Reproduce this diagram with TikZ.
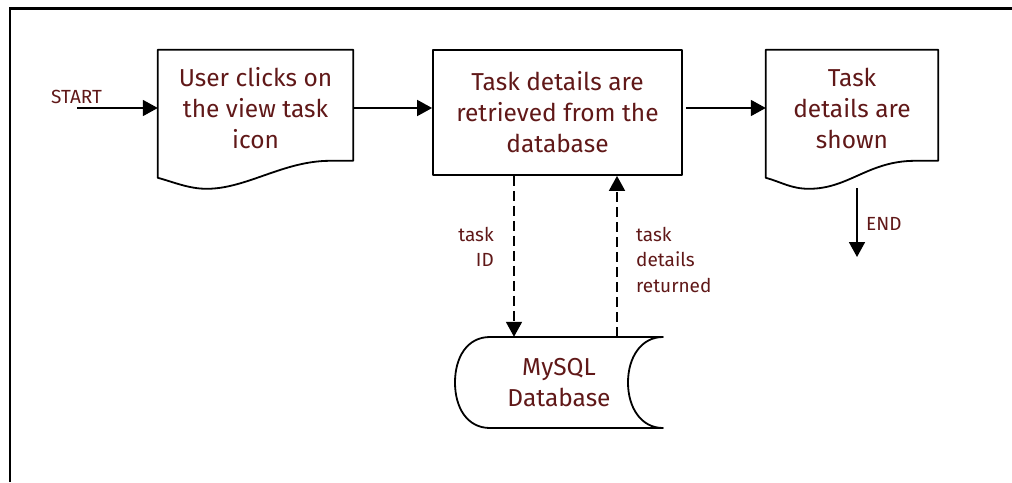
\documentclass[tikz,border=0pt]{standalone}
\usepackage{fontspec}
\setmainfont{Fira Sans}
\usetikzlibrary{arrows.meta,calc}
\definecolor{labelred}{RGB}{96,24,24}
\tikzset{
  outline/.style={draw=black, line width=1.8pt, line join=round},
  boxtext/.style={text=labelred, font=\fontsize{24.5}{31}\selectfont, align=center, inner sep=0pt},
  proc/.style={boxtext, outline, minimum width=249pt, minimum height=125pt},
  docbox/.style={boxtext, minimum height=116pt},
  small/.style={text=labelred, font=\fontsize{19}{25.5}\selectfont, inner sep=0pt},
  flow/.style={line width=1.8pt, -{Triangle[length=15pt,width=16pt]}},
  dashflow/.style={flow, dash pattern=on 10pt off 5pt},
}
% document symbol: straight top and sides, wavy bottom edge
\newcommand\docoutline[1]{%
  \draw[outline] (#1.north west) -- (#1.north east)
    -- ($(#1.north east)+(0,111)$) -- ($(#1.north east)+(-23,111)$)
    .. controls ($(#1.north east)+(-70,111)$) and ($(#1.north west)!0.25!(#1.north east)+(40,139)$)
    .. ($(#1.north west)!0.25!(#1.north east)+(0,139)$)
    .. controls ($(#1.north west)!0.25!(#1.north east)+(-18,139)$) and ($(#1.north west)+(15,132)$)
    .. ($(#1.north west)+(0,128)$) -- cycle;}
\begin{document}
\begin{tikzpicture}[x=1pt, y=-1pt]
  \useasboundingbox (0,0) rectangle (1012,482);
  % frame
  \draw[line width=2.5pt] (10,482) -- (10,8.5) -- (1012,8.5);

  % steps
  \node[docbox, minimum width=195pt] (user) at (255.5,108) {User clicks on\\the view task\\icon};
  \docoutline{user}
  \node[proc] (task) at (557.5,112.5) {Task details are\\retrieved from the\\database};
  \node[docbox, minimum width=172pt] (shown) at (852,108) {Task\\details are\\shown};
  \docoutline{shown}

  % stored data
  \node[boxtext, minimum height=91pt, minimum width=100pt] (db) at (559,382.5) {MySQL\\Database};
  \begin{scope}[shift={(db.center)}]
    \draw[outline] (-69,-45.5) -- (104,-45.5)
      .. controls (82,-45.5) and (69,-25) .. (69,0)
      .. controls (69,25) and (82,45.5) .. (104,45.5)
      -- (-69,45.5)
      .. controls (-92,45.5) and (-104,25) .. (-104,0)
      .. controls (-104,-25) and (-92,-45.5) .. (-69,-45.5) -- cycle;
  \end{scope}

  % start and end
  \coordinate (startpt) at (77,108);
  \node[small, anchor=base west] (startlbl) at (51,103) {START};
  \coordinate (endtop) at (857,188);
  \coordinate (endpt) at (857,257);
  \node[small, anchor=base west] (endlbl) at (866,230) {END};

  % flow
  \draw[flow] (startpt) -- (user.west);
  \draw[flow] (user.east) -- (user.east -| task.west);
  \draw[flow] ([xshift=3pt]user.east -| task.east) -- (user.east -| shown.west);
  \draw[flow] (endtop) -- (endpt);

  % database exchange
  \draw[dashflow] ([xshift=-43.5pt]task.south) -- ([xshift=-43.5pt]task.south |- db.north);
  \draw[dashflow] ([xshift=59.5pt]task.south |- db.north) -- ([xshift=59.5pt]task.south);
  \node[small, anchor=north east, align=right] (idlbl) at (494,227) {task\\ID};
  \node[small, anchor=north west, align=left] (retlbl) at (636,227) {task\\details\\returned};
\end{tikzpicture}
\end{document}
